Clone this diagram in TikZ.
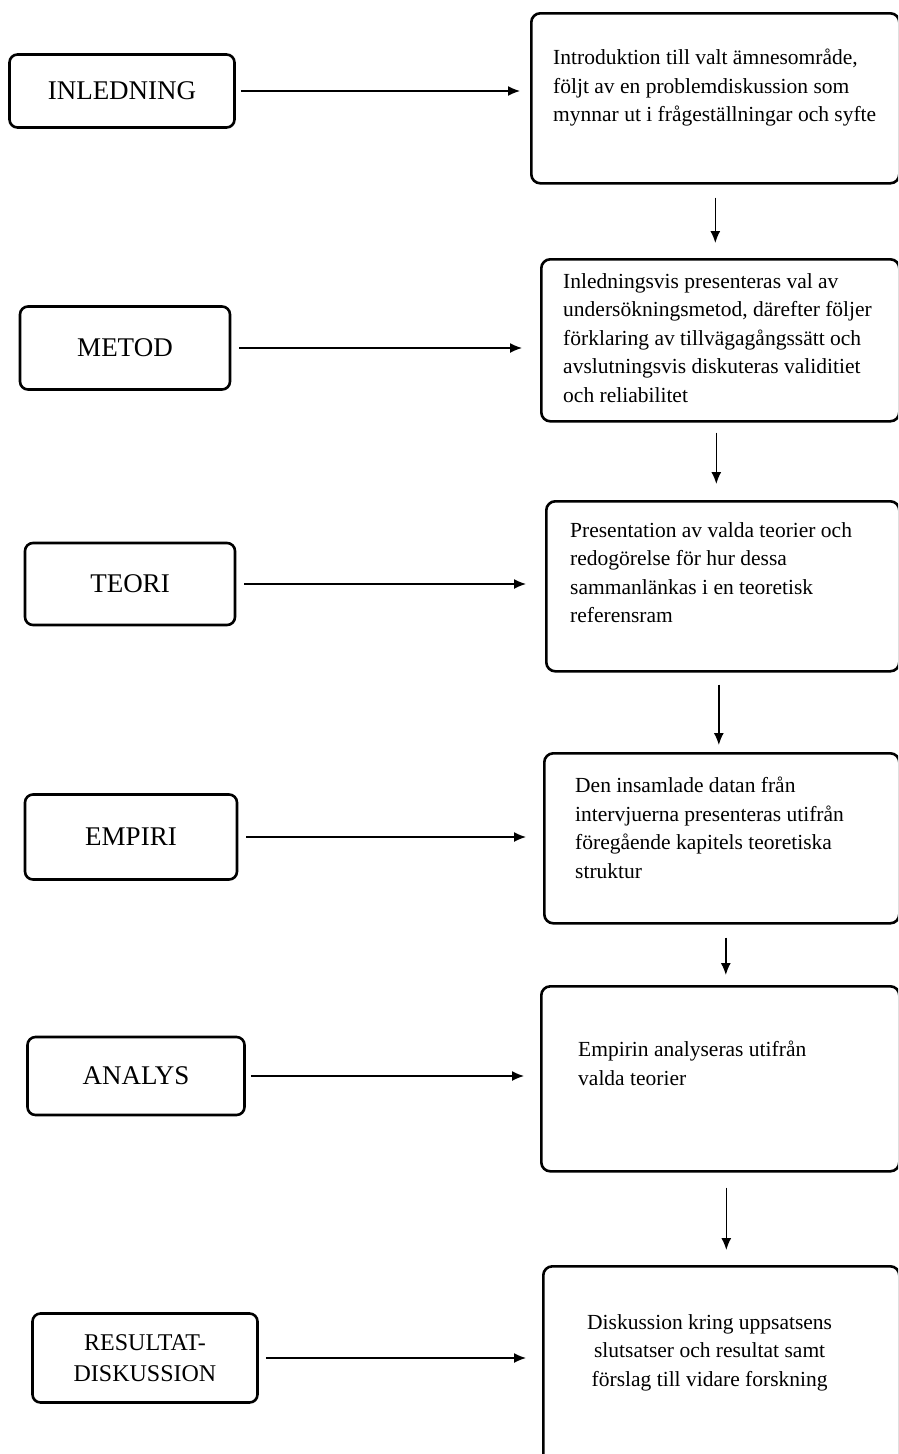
\documentclass[tikz,border=0pt]{standalone}
\usepackage{fontspec}
\setmainfont{Liberation Serif}
\usetikzlibrary{arrows.meta,positioning}
\tikzset{>={Latex[length=12pt,width=10pt]}}
\tikzset{
  chapter/.style={draw, line width=2.6pt, rounded corners=8pt, inner sep=0pt,
    align=center, font=\fontsize{27}{29}\selectfont},
  summary/.style={draw, line width=2.6pt, rounded corners=9pt, inner sep=0pt,
    anchor=north west},
  summarytext/.style={anchor=north west, inner sep=0pt, align=left,
    font=\fontsize{21.5}{28.5}\selectfont},
  flow/.style={->, line width=1.4pt}
}

\begin{document}
\begin{tikzpicture}[x=1pt, y=-1pt]
  \useasboundingbox (0,0) rectangle (898,1454);
  \clip (0,0) rectangle (898,1454);

  % chapters on the left
  \node [chapter, minimum width=225pt, minimum height=73pt] (inledning) at (122,91) {INLEDNING};
  \node [chapter, minimum width=210pt, minimum height=83pt] (metod) at (125,348) {METOD};
  \node [chapter, minimum width=210pt, minimum height=82pt] (teori) at (130,584) {TEORI};
  \node [chapter, minimum width=212pt, minimum height=85pt] (empiri) at (131,837) {EMPIRI};
  \node [chapter, minimum width=217pt, minimum height=78pt] (analys) at (136,1076) {ANALYS};
  \node [chapter, minimum width=225pt, minimum height=89pt,
         font=\fontsize{24}{31}\selectfont] (resultat) at (145,1358) {RESULTAT-\\DISKUSSION};

  % descriptions on the right
  \node [summary, minimum width=368pt, minimum height=170pt] (inledningdesc) at (530,12) {};
  \node [summary, minimum width=358pt, minimum height=162pt] (metoddesc) at (540,258) {};
  \node [summary, minimum width=353pt, minimum height=170pt] (teoridesc) at (545,500) {};
  \node [summary, minimum width=355pt, minimum height=170pt] (empiridesc) at (543,752) {};
  \node [summary, minimum width=358pt, minimum height=185pt] (analysdesc) at (540,985) {};
  \node [summary, minimum width=356pt, minimum height=210pt] (resultatdesc) at (542,1265) {};

  \node [summarytext] (inledningtxt) at ([shift={(23,37)}]inledningdesc.north west)
    {Introduktion till valt ämnesområde,\\följt av en problemdiskussion som\\mynnar ut i frågeställningar och syfte};
  \node [summarytext] (metodtxt) at ([shift={(23,15)}]metoddesc.north west)
    {Inledningsvis presenteras val av\\undersökningsmetod, därefter följer\\förklaring av tillvägagångssätt och\\avslutningsvis diskuteras validitiet\\och reliabilitet};
  \node [summarytext] (teoritxt) at ([shift={(25,22)}]teoridesc.north west)
    {Presentation av valda teorier och\\redogörelse för hur dessa\\sammanlänkas i en teoretisk\\referensram};
  \node [summarytext] (empiritxt) at ([shift={(32,25)}]empiridesc.north west)
    {Den insamlade datan från\\intervjuerna presenteras utifrån\\föregående kapitels teoretiska\\struktur};
  \node [summarytext] (analystxt) at ([shift={(38,56)}]analysdesc.north west)
    {Empirin analyseras utifrån\\valda teorier};
  \node [summarytext, align=center] (resultattxt) at ([shift={(45,49)}]resultatdesc.north west)
    {Diskussion kring uppsatsens\\slutsatser och resultat samt\\förslag till vidare forskning};

  % arrows into the descriptions
  \draw [flow, shorten <=5pt, shorten >=10pt] (inledning.east) -- (inledning.east -| inledningdesc.west);
  \draw [flow, shorten <=8pt, shorten >=18pt] (metod.east) -- (metod.east -| metoddesc.west);
  \draw [flow, shorten <=8pt, shorten >=19pt] (teori.east) -- (teori.east -| teoridesc.west);
  \draw [flow, shorten <=8pt, shorten >=17pt] (empiri.east) -- (empiri.east -| empiridesc.west);
  \draw [flow, shorten <=5pt, shorten >=16pt] (analys.east) -- (analys.east -| analysdesc.west);
  \draw [flow, shorten <=7pt, shorten >=16pt] (resultat.east) -- (resultat.east -| resultatdesc.west);

  % arrows between the descriptions
  \draw [flow, shorten <=13pt, shorten >=15pt] (inledningdesc.south) -- (inledningdesc.south |- metoddesc.north);
  \draw [flow, shorten <=10pt, shorten >=16pt] ([xshift=-4pt]metoddesc.south) -- ([xshift=-4pt]metoddesc.south |- teoridesc.north);
  \draw [flow, shorten <=12pt, shorten >=7pt] ([xshift=-4pt]teoridesc.south) -- ([xshift=-4pt]teoridesc.south |- empiridesc.north);
  \draw [flow, shorten <=13pt, shorten >=10pt] ([xshift=4pt]empiridesc.south) -- ([xshift=4pt]empiridesc.south |- analysdesc.north);
  \draw [flow, shorten <=15pt, shorten >=15pt] ([xshift=6pt]analysdesc.south) -- ([xshift=6pt]analysdesc.south |- resultatdesc.north);
\end{tikzpicture}
\end{document}
